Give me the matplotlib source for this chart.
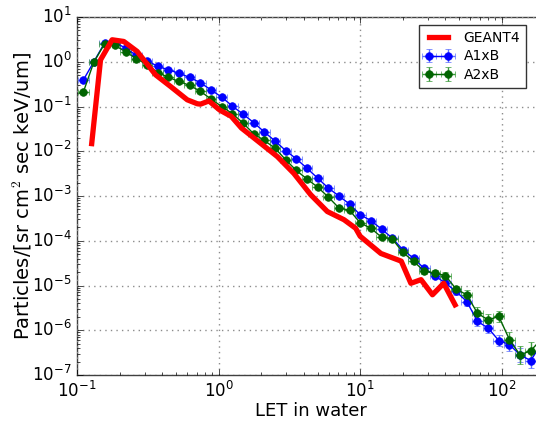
import matplotlib
matplotlib.use("Agg")
from matplotlib import pyplot as plt
import numpy as np

# LET bin centres (keV/um), shared by both detector series
let_bins = [0.1106, 0.1315, 0.1564, 0.1860, 0.2212, 0.2631, 0.3128, 0.3720,
            0.4424, 0.5262, 0.6257, 0.7441, 0.8848, 1.0523, 1.2514, 1.4882,
            1.7696, 2.1045, 2.5027, 2.9763, 3.5394, 4.2091, 5.0055, 5.9526,
            7.0789, 8.4182, 10.011, 11.905, 14.158, 16.836, 20.022, 23.810,
            28.315, 33.672, 40.043, 47.619, 56.629, 67.344, 80.086, 95.238,
            113.26, 134.69, 160.17, 190.48]

a1xb = [0.386, 1.0, 2.62, 2.69, 2.0, 1.38, 1.06, 0.785,
        0.662, 0.55, 0.447, 0.339, 0.234, 0.162, 0.102, 0.0676,
        0.0437, 0.0269, 0.0170, 0.01035, 6.76e-3, 4.17e-3, 2.51e-3, 1.51e-3,
        1.0e-3, 6.6e-4, 3.8e-4, 2.82e-4, 1.82e-4, 1.15e-4, 6.3e-5, 4.07e-5,
        2.4e-5, 1.66e-5, 1.12e-5, 7.4e-6, 4.37e-6, 1.58e-6, 1.12e-6, 5.9e-7,
        4.8e-7, 2.8e-7, 2.1e-7, 5.0e-7]

a2xb = [0.206, 0.98, 2.49, 2.31, 1.65, 1.17, 0.857, 0.575,
        0.447, 0.363, 0.295, 0.219, 0.146, 0.100, 0.0692, 0.0427,
        0.0245, 0.0174, 0.0117, 6.46e-3, 3.72e-3, 2.4e-3, 1.58e-3, 9.5e-4,
        5.4e-4, 4.8e-4, 2.5e-4, 1.9e-4, 1.2e-4, 1.1e-4, 5.5e-5, 3.47e-5,
        2.1e-5, 1.9e-5, 1.66e-5, 8.3e-6, 6.2e-6, 2.4e-6, 1.7e-6, 2.04e-6,
        6.2e-7, 2.8e-7, 3.5e-7, 6.3e-7]

# relative statistical errors
a1xb_relerr = [0.08] * 30 + [0.12, 0.12, 0.15, 0.15, 0.18, 0.2, 0.25, 0.3,
                             0.3, 0.35, 0.4, 0.45, 0.5, 0.5]
a2xb_relerr = [0.08] * 30 + [0.12, 0.12, 0.15, 0.15, 0.18, 0.2, 0.25, 0.35,
                             0.35, 0.35, 0.5, 0.6, 0.6, 0.5]

# GEANT4 simulation
geant_let = [0.127, 0.1466, 0.177, 0.214, 0.266, 0.359, 0.458, 0.601,
             0.708, 0.746, 0.855, 1.02, 1.23, 1.45, 1.98, 2.60, 3.40,
             4.47, 5.86, 7.69, 9.29, 10.0, 14.0, 19.5, 22.8, 26.9,
             32.4, 38.9, 46.8]
geant_flux = [0.0148, 1.1, 3.1, 2.84, 1.70, 0.51, 0.28, 0.141,
              0.115, 0.113, 0.133, 0.083, 0.060, 0.033, 0.0151, 0.0076, 0.0032,
              1.07e-3, 4.5e-4, 2.95e-4, 1.9e-4, 1.26e-4, 5.2e-5, 3.5e-5, 1.12e-5, 1.35e-5,
              6.2e-6, 1.12e-5, 3.7e-6]

plt.style.use('classic')
plt.rcParams['figure.facecolor'] = 'white'
plt.rcParams['savefig.facecolor'] = 'white'

fig = plt.figure(figsize=(5.36, 4.22), dpi=100)
ax = fig.add_axes([77 / 536, 47 / 422, 0.872, 358 / 422])

x = np.array(let_bins)
half = 2 ** (1 / 8)
xerr = [x - x / half, x * half - x]

ax.plot(geant_let, geant_flux, color='red', lw=3.8, label='GEANT4', zorder=5)

for vals, rel, col, ecol, lab in [(a1xb, a1xb_relerr, 'blue', '#5a6cff', 'A1xB'),
                                  (a2xb, a2xb_relerr, '#006400', '#3a9a3a', 'A2xB')]:
    y = np.array(vals)
    r = np.array(rel)
    ax.errorbar(x, y, yerr=[y * r / (1 + r), y * r], xerr=xerr, fmt='o-', color=col,
                mfc=col, mec=col, ms=5.5, lw=1.0, ecolor=ecol, elinewidth=1.0,
                capsize=2.5, label=lab, zorder=4)

ax.set_xscale('log')
ax.set_yscale('log')
ax.set_xlim(0.1, 200)
ax.set_ylim(1e-7, 10)
ax.grid(True, which='major', color='0.55', linestyle=':', linewidth=1.0)
ax.tick_params(labelsize=12)
for sp in ax.spines.values():
    sp.set_color('0.25')

ax.set_xlabel('LET in water', fontsize=13, labelpad=1)
ax.set_ylabel('Particles/[sr cm$^2$ sec keV/um]', fontsize=14)
ax.yaxis.set_label_coords(-0.092, 0.5)

leg = ax.legend(loc='upper left', bbox_to_anchor=(419 / 536, 1 - 25 / 422),
                bbox_transform=fig.transFigure, fontsize=10, numpoints=2,
                borderaxespad=0.0, handlelength=2.0, labelspacing=0.35)
leg.get_frame().set_edgecolor('0.2')

fig.savefig('out.png', dpi=100)
